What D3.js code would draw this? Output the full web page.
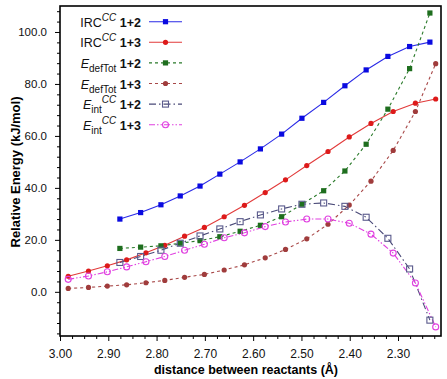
<!DOCTYPE html>
<html><head><meta charset="utf-8">
<script src="https://cdn.jsdelivr.net/npm/d3@7/dist/d3.min.js"></script>
<style>
body{margin:0;background:#fff;}
svg{display:block;font-family:"Liberation Sans",Arial,Helvetica,sans-serif;}
</style></head>
<body><svg id="c" width="447" height="379"></svg>
<script>
// ---- data ----
const xs12 = [2.876,2.833,2.791,2.751,2.710,2.669,2.627,2.585,2.541,2.499,2.454,2.410,2.366,2.321,2.276,2.234];
const xs13 = [2.983,2.941,2.902,2.862,2.822,2.783,2.742,2.701,2.660,2.618,2.575,2.533,2.489,2.445,2.401,2.356,2.310,2.264,2.222];
const irc12 = [28.0,30.5,33.5,36.9,40.7,45.3,50.0,55.0,60.7,66.8,72.9,79.3,85.4,90.6,94.4,96.1];
const irc13 = [6.0,8.0,10.0,12.3,15.0,17.9,21.4,24.8,28.9,33.3,38.2,43.1,48.6,54.0,59.6,64.8,69.4,72.6,74.2];
const def12 = [16.7,17.2,17.7,18.7,19.7,21.2,23.3,25.6,28.9,33.7,38.9,46.5,56.8,70.3,85.9,107.3];
const def13 = [1.3,1.7,2.2,2.7,3.5,4.4,5.6,6.7,8.4,10.4,13.1,16.3,20.4,26.0,33.4,42.6,54.4,69.4,87.8];
const int12 = [11.3,13.6,16.0,18.7,21.5,24.2,27.0,29.6,31.9,33.7,34.2,32.9,28.7,20.6,8.8,-10.9];
const int13 = [4.8,6.1,7.7,9.6,11.6,13.6,16.0,18.3,20.8,22.7,25.1,26.9,28.0,28.0,26.4,22.2,14.9,3.4,-13.5];
const xMajor = [3.00,2.90,2.80,2.70,2.60,2.50,2.40,2.30];
const yMajor = [0,20,40,60,80,100];

const series = [
  {x:xs12, y:irc12, color:"#2a2ae6", mcolor:"#0a0ae0", dash:null, marker:"sq", lab:[["IRC",""],["CC","sup"],[" 1+2","b"]]},
  {x:xs13, y:irc13, color:"#e23a3a", mcolor:"#dd1a1a", dash:null, marker:"ci", lab:[["IRC",""],["CC","sup"],[" 1+3","b"]]},
  {x:xs12, y:def12, color:"#2a7a2a", mcolor:"#1e6e1e", dash:"3,3", marker:"sq", lab:[["E","i"],["defTot","sub"],[" 1+2","b"]]},
  {x:xs13, y:def13, color:"#a84848", mcolor:"#a03c3c", dash:"3,3", marker:"ci", lab:[["E","i"],["defTot","sub"],[" 1+3","b"]]},
  {x:xs12, y:int12, color:"#4a4a78", mcolor:"#5a5a8c", dash:"7,3,1.5,3", marker:"osq", lab:[["E","i"],["int","sub"],["CC","sup2"],[" 1+2","b"]]},
  {x:xs13, y:int13, color:"#e040e0", mcolor:"#e040e0", dash:"6,2,1.5,2,1.5,2", marker:"oci", lab:[["E","i"],["int","sub"],["CC","sup2"],[" 1+3","b"]]}
];

const L=60, R=441, T=6, B=336;
const svg = d3.select("#c");
const x = d3.scaleLinear().domain([3.00,2.211]).range([L,R]);
const y = d3.scaleLinear().domain([-17,110]).range([B,T]);

// minor ticks
const xMinor = d3.range(0,32).map(i=>+(3.0-i*0.025).toFixed(3)).filter(v=>v>=2.211 && Math.abs(v*10-Math.round(v*10))>1e-6);
const yMinor = d3.range(-16,110,4).filter(v=>v%20!==0);

const gx = svg.append("g").attr("transform",`translate(0,${B})`);
gx.call(d3.axisBottom(x).tickValues(xMinor).tickSize(3).tickFormat(""));
gx.call(g=>g.select(".domain").remove());
const gx2 = svg.append("g").attr("transform",`translate(0,${B})`)
  .call(d3.axisBottom(x).tickValues(xMajor).tickSize(5).tickPadding(8).tickFormat(d3.format(".2f")));
gx2.select(".domain").remove();
gx2.selectAll("text").attr("font-size",12).attr("fill","#111");

const gy = svg.append("g").attr("transform",`translate(${L},0)`)
  .call(d3.axisLeft(y).tickValues(yMinor).tickSize(3).tickFormat(""));
gy.select(".domain").remove();
const gy2 = svg.append("g").attr("transform",`translate(${L},0)`)
  .call(d3.axisLeft(y).tickValues(yMajor).tickSize(5).tickPadding(8).tickFormat(d3.format(".1f")));
gy2.select(".domain").remove();
gy2.selectAll("text").attr("font-size",11.5).attr("fill","#111");
svg.selectAll(".tick line").attr("stroke","#000");

// titles
svg.append("text").attr("x",246).attr("y",374).attr("text-anchor","middle")
  .attr("font-weight","bold").attr("font-size",12.5).text("distance between reactants (Å)");
svg.append("text").attr("transform","translate(20,172) rotate(-90)").attr("text-anchor","middle")
  .attr("font-weight","bold").attr("font-size",13).text("Relative Energy (kJ/mol)");

// data
const plot = svg.append("g");
function drawMarker(g, type, cx, cy, col){
  if(type==="sq") g.append("rect").attr("x",cx-2.6).attr("y",cy-2.6).attr("width",5.2).attr("height",5.2).attr("fill",col);
  else if(type==="ci") g.append("circle").attr("cx",cx).attr("cy",cy).attr("r",2.6).attr("fill",col);
  else if(type==="osq") g.append("rect").attr("x",cx-3).attr("y",cy-3).attr("width",6).attr("height",6).attr("fill","#fff").attr("fill-opacity",0).attr("stroke",col).attr("stroke-width",1.1);
  else g.append("circle").attr("cx",cx).attr("cy",cy).attr("r",3).attr("fill","none").attr("stroke",col).attr("stroke-width",1.1);
}
const line = d3.line().x(d=>x(d[0])).y(d=>y(d[1]));
series.forEach(s=>{
  const pts = s.x.map((v,i)=>[v,s.y[i]]);
  plot.append("path").attr("d",line(pts)).attr("fill","none").attr("stroke",s.color)
    .attr("stroke-width",1.1).attr("stroke-dasharray",s.dash);
});
series.forEach(s=>{
  s.x.forEach((v,i)=>drawMarker(plot,s.marker,x(v),y(s.y[i]),s.mcolor));
});

// frame
svg.append("rect").attr("x",L).attr("y",T).attr("width",R-L).attr("height",B-T)
  .attr("fill","none").attr("stroke","#000").attr("stroke-width",1.6);

// legend
const lg = svg.append("g");
series.forEach((s,i)=>{
  const ly = 21.7 + i*20.6;
  lg.append("line").attr("x1",149).attr("x2",182).attr("y1",ly).attr("y2",ly)
    .attr("stroke",s.color).attr("stroke-width",1.1).attr("stroke-dasharray",s.dash);
  drawMarker(lg,s.marker,165.5,ly,s.mcolor);
  const t = lg.append("text").attr("x",141).attr("y",ly+5).attr("text-anchor","end").attr("font-size",12.5).attr("fill","#111");
  let shift=0;
  s.lab.forEach(([str,sty])=>{
    const ts = t.append("tspan").text(str);
    let target=0;
    if(sty==="i") ts.attr("font-style","italic");
    if(sty==="b") ts.attr("font-weight","bold");
    if(sty==="sup"){ts.attr("font-style","italic").attr("font-size",10); target=-6;}
    if(sty==="sub"){ts.attr("font-size",10); target=4;}
    if(sty==="sup2"){ts.attr("font-style","italic").attr("font-size",10); target=-6;}
    ts.attr("dy",target-shift); shift=target;
  });
});
</script></body></html>
